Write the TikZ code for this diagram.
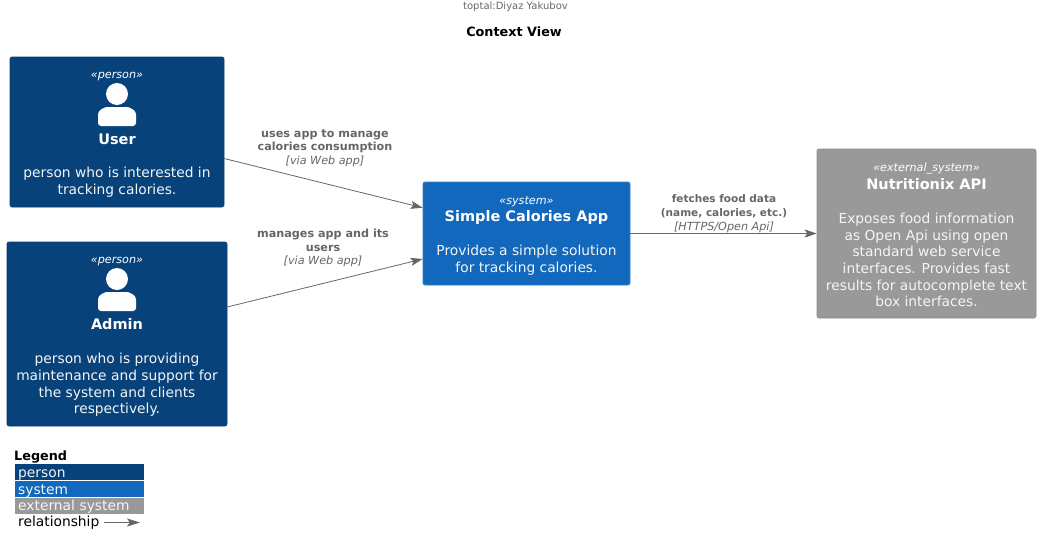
\documentclass[tikz,border=0pt]{standalone}
\usepackage{fontspec}
\setmainfont{DejaVu Sans}
\usetikzlibrary{arrows.meta}
\definecolor{personblue}{HTML}{08427B}
\definecolor{systemblue}{HTML}{1168BD}
\definecolor{extgrey}{HTML}{999999}
\definecolor{linegrey}{HTML}{666666}
\begin{document}
\begin{tikzpicture}[x=1pt,y=-1pt]
    \tikzset{% This is the style settings for nodes
    box/.style={rounded corners=2pt,inner sep=0pt,line width=0.6pt},
    personbox/.style={box,fill=personblue,draw=personblue!90!black},
    systembox/.style={box,fill=systemblue,draw=systemblue!85!white},
    extbox/.style={box,fill=extgrey,draw=extgrey!90!black},
    stereo/.style={text=white,font=\fontsize{11.2}{13}\selectfont\itshape},
    boxname/.style={text=white,font=\fontsize{14.5}{17}\selectfont\bfseries},
    boxdesc/.style={text=white!96!black,align=center,font=\fontsize{13.8}{16.6}\selectfont},
    rellabel/.style={text=linegrey,align=center,font=\fontsize{11.2}{13.7}\selectfont},
    rel/.style={draw=linegrey,line width=0.8pt,-{Stealth[length=12pt,width=8pt,inset=2.5pt]}},
    legendrow/.style={minimum height=16pt,inner ysep=0pt,inner xsep=3pt,text width=123pt,text height=11.5pt,text depth=1.5pt,align=left,anchor=west,text=white!96!black,font=\fontsize{13.8}{15}\selectfont},
    pics/personicon/.style={code={
        \fill[white] (0,-13) circle (11);
        \fill[white,rounded corners=3pt] (-19,19) -- (-19,10)
            .. controls (-19,3) and (-12,0) .. (-7,0) -- (7,0)
            .. controls (12,0) and (19,3) .. (19,10) -- (19,19) -- cycle;
    }},
    }
    \useasboundingbox (0,0) rectangle (1041,552);
    % Header
    \node[text=linegrey,font=\fontsize{10}{12}\selectfont] (author) at (515.5,7) {toptal:Diyaz Yakubov};
    \node[font=\fontsize{12.8}{15}\selectfont\bfseries] (title) at (514,31.5) {Context View};

    % Nodes
    \node[personbox,minimum width=214pt,minimum height=150pt] (user) at (117,132) {};
    \node[stereo] (userst) at (117,76.5) {«person»};
    \pic at (117,107) {personicon};
    \node[boxname] (username) at (117,139.5) {User};
    \node[boxdesc] (userdesc) at (117,182) {person who is interested in\\tracking calories.};

    \node[personbox,minimum width=220pt,minimum height=184pt] (admin) at (117,334) {};
    \node[stereo] (adminst) at (117,261.5) {«person»};
    \pic at (117,292) {personicon};
    \node[boxname] (adminname) at (117,324.5) {Admin};
    \node[boxdesc] (admindesc) at (117,385) {person who is providing\\maintenance and support for\\the system and clients\\respectively.};

    \node[systembox,minimum width=207pt,minimum height=103pt] (app) at (526.5,233.5) {};
    \node[stereo] (appst) at (526.5,201.5) {«system»};
    \node[boxname] (appname) at (526.5,217.5) {Simple Calories App};
    \node[boxdesc] (appdesc) at (526.5,260) {Provides a simple solution\\for tracking calories.};

    \node[extbox,minimum width=219pt,minimum height=169pt] (api) at (926.5,233.5) {};
    \node[stereo] (apist) at (926.5,168.5) {«external\_system»};
    \node[boxname] (apiname) at (926.5,184.5) {Nutritionix API};
    \node[boxdesc] (apidesc) at (926.5,260) {Exposes food information\\as Open Api using open\\standard web service\\interfaces. Provides fast\\results for autocomplete text\\box interfaces.};

    % Edges
    \draw[rel] (user) -- (app);
    \draw[rel] (admin) -- (app);
    \draw[rel] (app) -- (api);

    % Edge labels
    \node[rellabel] (lab1) at (325,148) {\textbf{uses app to manage}\\\textbf{calories consumption}\\\textit{[via Web app]}};
    \node[rellabel] (lab2) at (323,248) {\textbf{manages app and its}\\\textbf{users}\\\textit{[via Web app]}};
    \node[rellabel] (lab3) at (724,213.5) {{\fontsize{10.5}{13.7}\selectfont\textbf{fetches food data}}\\{\fontsize{10.5}{13.7}\selectfont\textbf{(name, calories, etc.)}}\\\textit{[HTTPS/Open Api]}};

    % Legend
    \node[font=\fontsize{12.8}{15}\selectfont\bfseries,anchor=west,inner sep=0pt] (legend) at (14,457.5) {Legend};
    \node[legendrow,fill=personblue] (lperson) at (15,472) {person};
    \node[legendrow,fill=systemblue] (lsystem) at (15,489) {system};
    \node[legendrow,fill=extgrey] (lext) at (15,505.5) {external system};
    \node[anchor=west,inner sep=0pt,font=\fontsize{13.8}{15}\selectfont] (lrel) at (18,523) {relationship};
    \coordinate (lrelend) at (140,522.5);
    \draw[draw=linegrey,line width=0.8pt,-{Stealth[length=13pt,width=8pt,inset=3pt]}] (lrel.east |- lrelend) ++(4,0) -- (lrelend);
\end{tikzpicture}
\end{document}
